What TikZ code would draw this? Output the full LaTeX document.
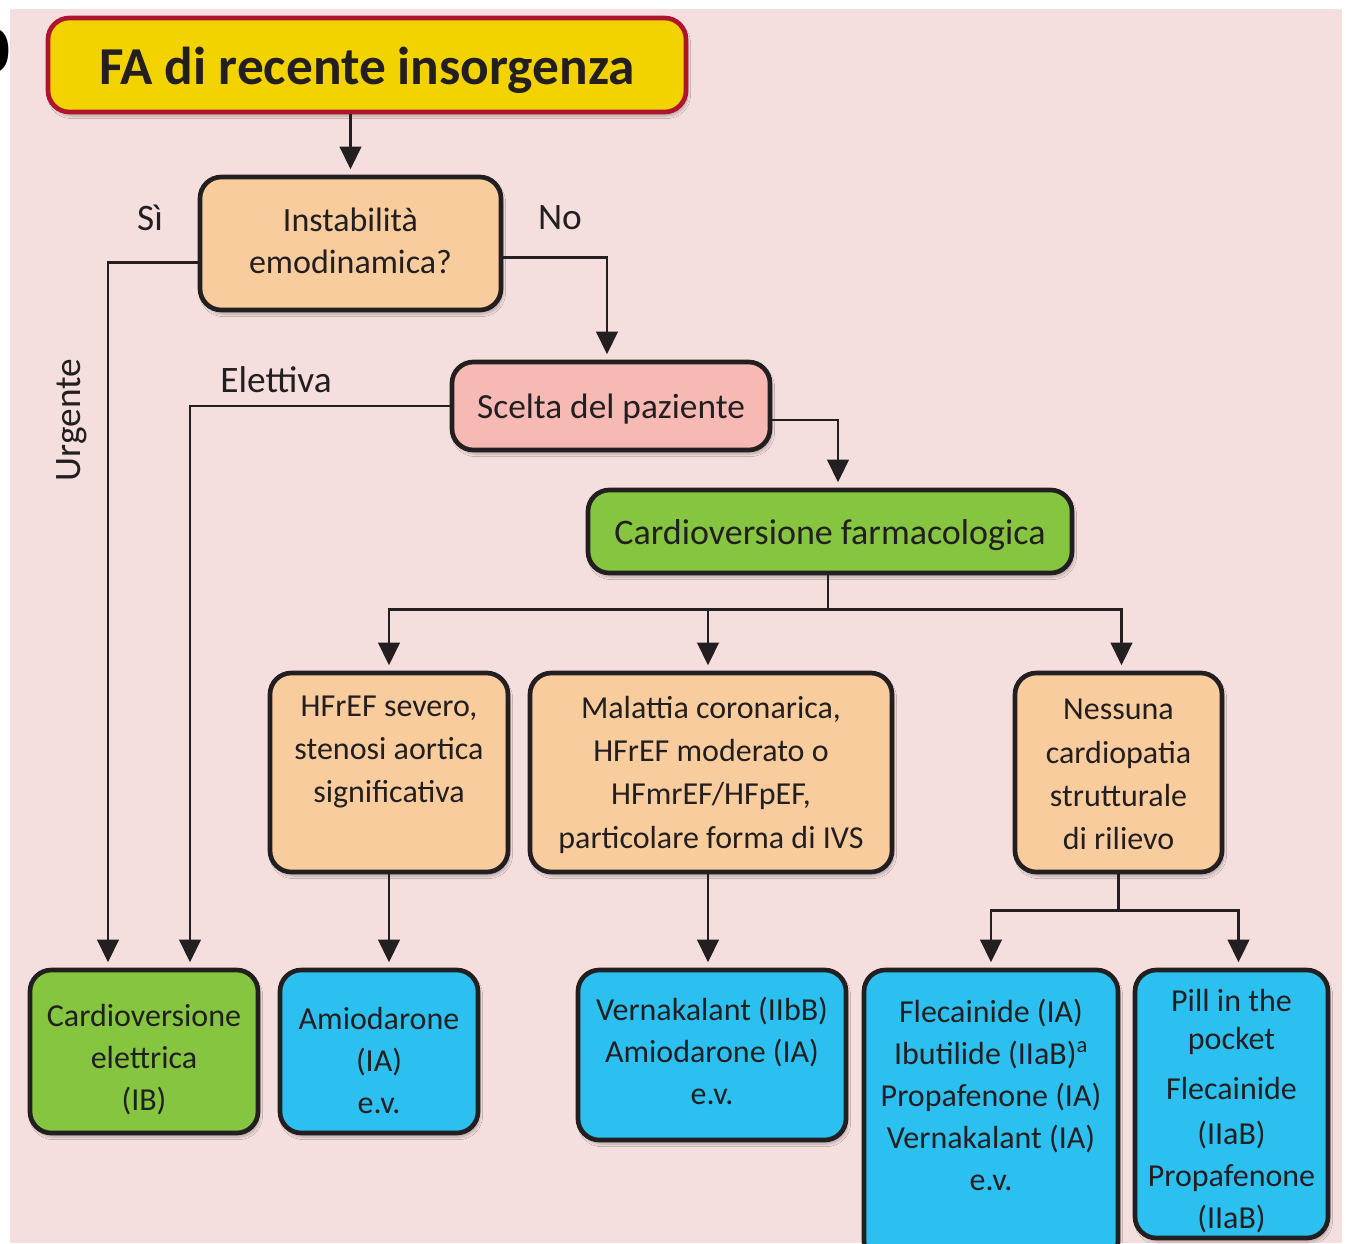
\documentclass[tikz,border=0pt]{standalone}
\usepackage{fontspec}
\setmainfont{Carlito}
\newfontfamily\panelfont{Liberation Sans}
\usetikzlibrary{arrows.meta,calc,shadows.blur}

\definecolor{bgpink}{HTML}{F4DFDE}
\definecolor{ink}{HTML}{231F20}
\definecolor{titleyellow}{HTML}{F2D300}
\definecolor{titlered}{HTML}{B0152E}
\definecolor{peach}{HTML}{F9CC9D}
\definecolor{rosebox}{HTML}{F7B9B3}
\definecolor{leafgreen}{HTML}{86C540}
\definecolor{skyblue}{HTML}{2CC0F1}

\begin{document}
\begin{tikzpicture}[x=0.75pt,y=-0.75pt,
  box/.style={draw=ink, line width=3.5pt, rounded corners=16pt, inner sep=0pt,
    blur shadow={shadow xshift=1.5pt, shadow yshift=-3pt, shadow opacity=25, shadow blur steps=8}},
  size/.style 2 args={minimum width=#1*0.75pt, minimum height=#2*0.75pt},
  boxtext/.style={inner sep=0pt, align=center, text=ink, font=\fontsize{24}{31.5}\selectfont},
  link/.style={draw=ink, line width=2.2pt},
  arr/.style={link, -{Triangle[width=16pt,length=17pt]}, shorten >=4pt},
  lbl/.style={text=ink, font=\fontsize{28}{30}\selectfont, inner sep=0pt}]

\useasboundingbox (0,0) rectangle (1346,1243);
\fill[white] (0,0) rectangle (1346,1243);
\fill[bgpink] (10,9) rectangle (1342,1243);

% panel letter, partly outside the page
\node[anchor=base east, inner sep=0pt, font=\panelfont\bfseries\fontsize{61}{61}\selectfont] (panel) at (12,72) {b};

% boxes
\node[box, fill=titleyellow, draw=titlered, size={638}{94}] (title) at (367,65) {};
\node[box, fill=peach, size={301}{133}] (instab) at (350.5,243.5) {};
\node[box, fill=rosebox, size={318}{88}] (scelta) at (611,406) {};
\node[box, fill=leafgreen, size={484}{83}] (cfarm) at (830,531.5) {};
\node[box, fill=peach, size={238}{199}] (hfref) at (389,772.5) {};
\node[box, fill=peach, size={362}{199}] (coron) at (711,772.5) {};
\node[box, fill=peach, size={207}{199}] (nessuna) at (1118.5,772.5) {};
\node[box, fill=leafgreen, size={228}{163}] (celett) at (144,1051.5) {};
\node[box, fill=skyblue, size={198}{163}] (amio) at (379,1051.5) {};
\node[box, fill=skyblue, size={268}{170}] (vern) at (712,1055) {};
\node[box, fill=skyblue, size={254}{292}] (flec) at (991,1116) {};
\node[box, fill=skyblue, size={193}{268}] (pill) at (1231.5,1104) {};

% box texts
\node[boxtext, font=\bfseries\fontsize{40}{44}\selectfont] (title-t) at (367,70) {FA di recente insorgenza};
\node[boxtext, font=\fontsize{25.5}{31.5}\selectfont] (instab-t) at (350.5,241) {Instabilità\\emodinamica?};
\node[boxtext, font=\fontsize{26.5}{31.5}\selectfont] (scelta-t) at (611,409) {Scelta del paziente};
\node[boxtext, font=\fontsize{27}{31.5}\selectfont] (cfarm-t) at (830,535) {Cardioversione farmacologica};
\node[boxtext, font=\fontsize{24}{32.5}\selectfont] (hfref-t) at (389,752) {HFrEF severo,\\stenosi aortica\\significativa};
\node[boxtext, font=\fontsize{24}{32.5}\selectfont] (coron-t) at (711,774.5) {Malattia coronarica,\\HFrEF moderato o\\HFmrEF/HFpEF,\\particolare forma di IVS};
\node[boxtext, font=\fontsize{24}{32.5}\selectfont] (nessuna-t) at (1118.5,774.5) {Nessuna\\cardiopatia\\strutturale\\di rilievo};
\node[boxtext] (celett-t) at (144,1060) {Cardioversione\\elettrica\\(IB)};
\node[boxtext] (amio-t) at (379,1060) {Amiodarone\\(IA)\\e.v.};
\node[boxtext] (vern-t) at (712,1051) {Vernakalant (IIbB)\\Amiodarone (IA)\\e.v.};
\node[boxtext] (flec-t) at (991,1095) {Flecainide (IA)\\Ibutilide (IIaB)\textsuperscript{a}\\Propafenone (IA)\\Vernakalant (IA)\\e.v.};
\node[boxtext] (pill-t) at (1231.5,1111) {Pill in the\\[-3pt]pocket\\[6pt]Flecainide\\[2pt](IIaB)\\Propafenone\\(IIaB)};

% connectors
\draw[arr] (title.south -| instab.north) -- (instab.north);
\draw[arr] ($(instab.west)+(0,19)$) -| ($(celett.north)+(-36,0)$);
\draw[arr] ($(instab.east)+(0,14)$) -| ($(scelta.north)+(-4,0)$);
\draw[arr] (scelta.west) -| ($(celett.north)+(46,0)$);
\draw[arr] ($(scelta.east)+(0,14)$) -| ($(cfarm.north)+(8,0)$);

\draw[link] ($(cfarm.south)+(-2,0)$) -- ++(0,34) coordinate (split1);
\draw[arr] (split1) -| (hfref.north);
\draw[arr] (split1) -| ($(coron.north)+(-3,0)$);
\draw[arr] (split1) -| ($(nessuna.north)+(3,0)$);

\draw[arr] (hfref.south) -- (hfref.south |- amio.north);
\draw[arr] ($(coron.south)+(-3,0)$) -- ($(coron.south |- vern.north)+(-3,0)$);
\draw[link] (nessuna.south) -- ++(0,36) coordinate (split2);
\draw[arr] (split2) -| (flec.north);
\draw[arr] (split2) -| ($(pill.north)+(7,0)$);

% branch labels
\node[lbl] (si) at (150,218) {Sì};
\node[lbl] (no) at (560,218) {No};
\node[lbl] (elettiva) at (276,380) {Elettiva};
\node[lbl, rotate=90] (urgente) at (72,420) {Urgente};

\end{tikzpicture}
\end{document}
